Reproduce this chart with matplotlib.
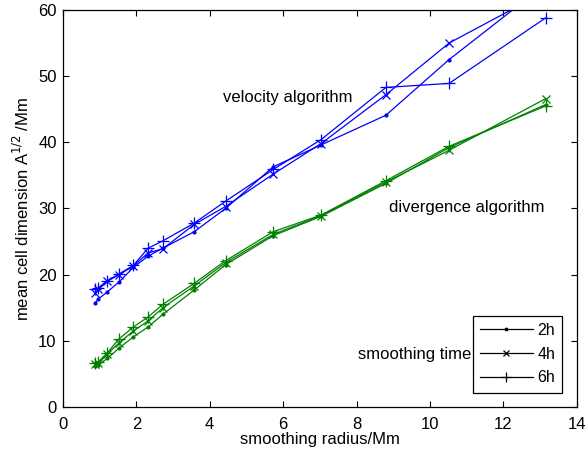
import matplotlib
matplotlib.use('Agg')
import matplotlib.pyplot as plt

plt.rcParams['font.family'] = ['Liberation Sans', 'DejaVu Sans']

# smoothing radius (Mm), shared by all curves
radius = [0.88, 0.96, 1.21, 1.53, 1.92, 2.32, 2.72, 3.58, 4.43, 5.73, 7.03, 8.8, 10.52, 13.15]

# velocity algorithm
vel_2h = [15.7, 16.3, 17.4, 18.9, 21.1, 22.8, 24.0, 26.5, 30.0, 36.3, 39.6, 44.1, 52.5, 63.9]
vel_4h = [17.2, 17.8, 19.0, 20.0, 21.3, 23.3, 23.9, 27.6, 30.3, 35.2, 39.8, 47.2, 55.0, 62.8]
vel_6h = [17.8, 18.0, 19.1, 20.1, 21.4, 24.0, 25.1, 27.8, 31.1, 35.9, 40.4, 48.3, 48.9, 58.8]

# divergence algorithm
div_2h = [6.2, 6.35, 7.35, 8.9, 10.6, 12.1, 14.0, 17.7, 21.5, 25.9, 28.8, 33.8, 39.2, 45.7]
div_4h = [6.5, 6.6, 8.0, 9.7, 11.5, 13.0, 15.0, 18.3, 21.8, 26.1, 28.9, 34.0, 38.8, 46.6]
div_6h = [6.7, 6.8, 8.2, 10.3, 12.1, 13.6, 15.5, 18.7, 22.1, 26.5, 29.0, 34.2, 39.4, 45.5]

blue = (0, 0, 1)
green = (0, 0.5, 0)
lw = 0.9

fig = plt.figure(figsize=(5.88, 4.53), dpi=100)
ax = fig.add_axes([0.107, 0.1015, 0.874, 0.8765])

for ys, c in [(vel_2h, blue), (div_2h, green)]:
    ax.plot(radius, ys, color=c, lw=lw, marker='.', ms=4)
for ys, c in [(vel_4h, blue), (div_4h, green)]:
    ax.plot(radius, ys, color=c, lw=lw, marker='x', ms=6, mew=0.9)
for ys, c in [(vel_6h, blue), (div_6h, green)]:
    ax.plot(radius, ys, color=c, lw=lw, marker='+', ms=9, mew=0.9)

# legend entries in black
h2, = ax.plot([], [], color='k', lw=lw, marker='.', ms=3.5, label='2h')
h4, = ax.plot([], [], color='k', lw=lw, marker='x', ms=5, mew=0.9, label='4h')
h6, = ax.plot([], [], color='k', lw=lw, marker='+', ms=7, mew=0.9, label='6h')
leg = ax.legend(handles=[h2, h4, h6], loc='lower right', fontsize=11.5,
                fancybox=False, edgecolor='k', framealpha=1,
                handlelength=3.3, handletextpad=0.3, borderaxespad=0.9,
                labelspacing=0.55, borderpad=0.45)
leg.get_frame().set_linewidth(0.9)

ax.text(4.36, 46.7, 'velocity algorithm', fontsize=12, va='center')
ax.text(8.88, 30.1, 'divergence algorithm', fontsize=12, va='center')
ax.text(8.04, 7.9, 'smoothing time', fontsize=12, va='center')

ax.set_xlim(0, 14)
ax.set_ylim(0, 60)
ax.set_xticks(range(0, 15, 2))
ax.set_yticks(range(0, 61, 10))
ax.tick_params(direction='in', top=True, right=True, labelsize=12, length=4, width=0.8)
ax.tick_params(axis='x', pad=7)
ax.tick_params(axis='y', pad=4.5)
for s in ax.spines.values():
    s.set_linewidth(0.9)

ax.set_xlabel('smoothing radius/Mm', fontsize=12, labelpad=0)
ax.set_ylabel('mean cell dimension A$^{1/2}$ /Mm', fontsize=12, labelpad=4)

fig.savefig('out.png', dpi=100)
